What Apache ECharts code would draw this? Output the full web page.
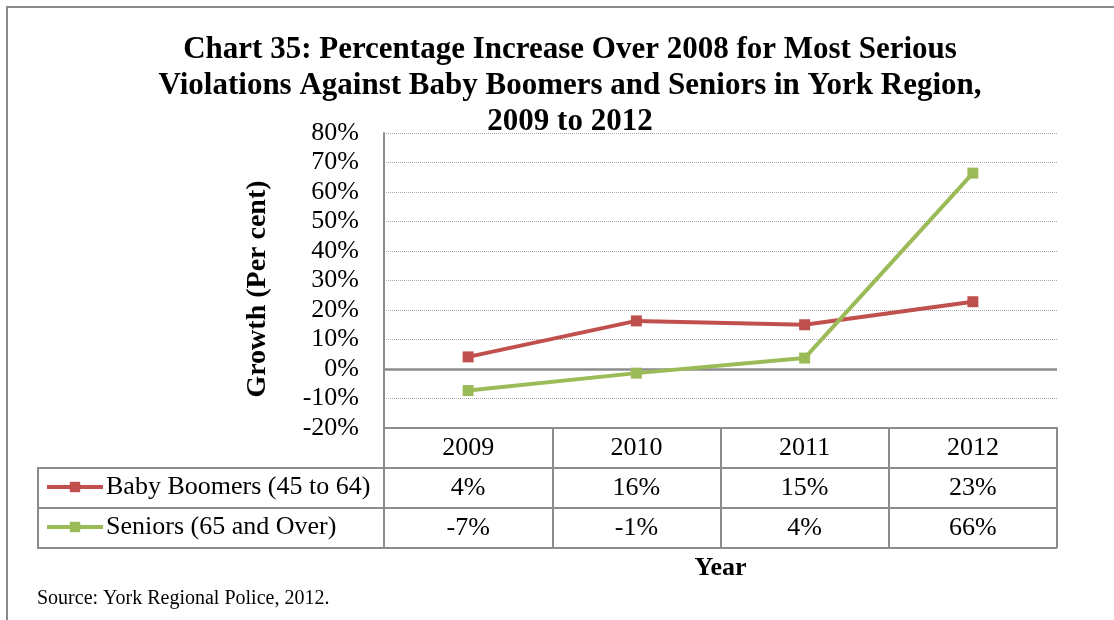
<!DOCTYPE html>
<html>
<head>
<meta charset="utf-8">
<script src="https://cdn.jsdelivr.net/npm/echarts@6/dist/echarts.min.js"></script>
<style>
  html, body { margin: 0; padding: 0; background: #fff; }
  #chart { width: 1114px; height: 620px; }
</style>
</head>
<body>
<div id="chart"></div>
<script>
// data
const years = ['2009', '2010', '2011', '2012']
const boomers = [4.1, 16.3, 15.0, 22.8]
const seniors = [-7.3, -1.4, 3.7, 66.4]
const tableBoomers = ['4%', '16%', '15%', '23%']
const tableSeniors = ['-7%', '-1%', '4%', '66%']

const serif = '"Liberation Serif", "Times New Roman", serif'
const gray = '#8c8c8c'

let myEcharts = echarts.init(document.getElementById('chart'))
myEcharts.setOption({
  animation: false,
  title: {
    text: 'Chart 35: Percentage Increase Over 2008 for Most Serious\nViolations Against Baby Boomers and Seniors in York Region,\n2009 to 2012',
    left: 565,
    top: 27,
    textAlign: 'center',
    textStyle: {
      fontFamily: serif,
      fontWeight: 'bold',
      fontSize: 31,
      lineHeight: 36,
      color: '#000'
    }
  },
  legend: [
    {
      data: ['Baby Boomers (45 to 64)'],
      left: 45,
      top: 474,
      padding: 0,
      itemWidth: 56,
      itemHeight: 13,
      itemGap: 4,
      lineStyle: { width: 4 },
      textStyle: { fontFamily: serif, fontSize: 26, color: '#000', padding: [0, 0, 0, -2] }
    },
    {
      data: ['Seniors (65 and Over)'],
      left: 45,
      top: 514,
      padding: 0,
      itemWidth: 56,
      itemHeight: 13,
      lineStyle: { width: 4 },
      textStyle: { fontFamily: serif, fontSize: 26, color: '#000', padding: [0, 0, 0, -2] }
    }
  ],
  grid: {
    left: 384,
    right: 57,
    top: 133,
    bottom: 192
  },
  xAxis: [
    {
      type: 'category',
      data: years,
      position: 'bottom',
      name: 'Year',
      nameLocation: 'middle',
      nameGap: 127,
      nameTextStyle: { fontFamily: serif, fontWeight: 'bold', fontSize: 26, color: '#000' },
      axisLine: { onZero: false, lineStyle: { color: gray, width: 2 } },
      axisTick: { show: true, length: 120, lineStyle: { color: gray, width: 2 } },
      axisLabel: { margin: 7, fontFamily: serif, fontSize: 26, color: '#000' }
    },
    {
      type: 'category',
      data: years,
      position: 'bottom',
      offset: 40,
      axisLine: { show: false },
      axisTick: { show: false },
      axisLabel: {
        margin: 7, fontFamily: serif, fontSize: 26, color: '#000',
        formatter: (v, i) => tableBoomers[i]
      }
    },
    {
      type: 'category',
      data: years,
      position: 'bottom',
      offset: 80,
      axisLine: { show: false },
      axisTick: { show: false },
      axisLabel: {
        margin: 7, fontFamily: serif, fontSize: 26, color: '#000',
        formatter: (v, i) => tableSeniors[i]
      }
    }
  ],
  yAxis: {
    type: 'value',
    min: -20,
    max: 80,
    interval: 10,
    name: 'Growth (Per cent)',
    nameLocation: 'middle',
    nameRotate: 90,
    nameGap: 112,
    nameTextStyle: {
      fontFamily: serif, fontWeight: 'bold', fontSize: 28, color: '#000',
      padding: [0, 17, 0, 0]
    },
    axisLine: { show: true, lineStyle: { color: gray, width: 2 } },
    axisTick: { show: false },
    axisLabel: {
      margin: 25, fontFamily: serif, fontSize: 26, color: '#000',
      formatter: '{value}%'
    },
    splitLine: { lineStyle: { type: 'dotted', color: '#aaa', width: 1 } }
  },
  graphic: [
    // outer frame
    { type: 'rect', shape: { x: 7, y: 7, width: 1200, height: 700 }, style: { fill: 'none', stroke: '#8a8a8a', lineWidth: 2 } },
    // table rows
    { type: 'line', shape: { x1: 38, y1: 468, x2: 1057, y2: 468 }, style: { stroke: gray, lineWidth: 2 } },
    { type: 'line', shape: { x1: 38, y1: 508, x2: 1057, y2: 508 }, style: { stroke: gray, lineWidth: 2 } },
    { type: 'line', shape: { x1: 38, y1: 548, x2: 1057, y2: 548 }, style: { stroke: gray, lineWidth: 2 } },
    { type: 'line', shape: { x1: 38, y1: 467, x2: 38, y2: 549 }, style: { stroke: gray, lineWidth: 2 } },
    {
      type: 'text', left: 37, top: 589,
      style: { text: 'Source: York Regional Police, 2012.', font: '20px ' + serif, fill: '#000' }
    }
  ],
  series: [
    {
      name: 'Baby Boomers (45 to 64)',
      type: 'line',
      data: boomers,
      symbol: 'rect',
      symbolSize: 11,
      itemStyle: { color: '#C0504D' },
      lineStyle: { color: '#C0504D', width: 4 },
      z: 3,
      markLine: {
        silent: true,
        symbol: 'none',
        label: { show: false },
        lineStyle: { color: gray, type: 'solid', width: 2.5 },
        data: [{ yAxis: 0 }],
        z: 1
      }
    },
    {
      name: 'Seniors (65 and Over)',
      type: 'line',
      data: seniors,
      symbol: 'rect',
      symbolSize: 11,
      itemStyle: { color: '#9BBB59' },
      lineStyle: { color: '#9BBB59', width: 4 },
      z: 4
    }
  ]
})
</script>
</body>
</html>
